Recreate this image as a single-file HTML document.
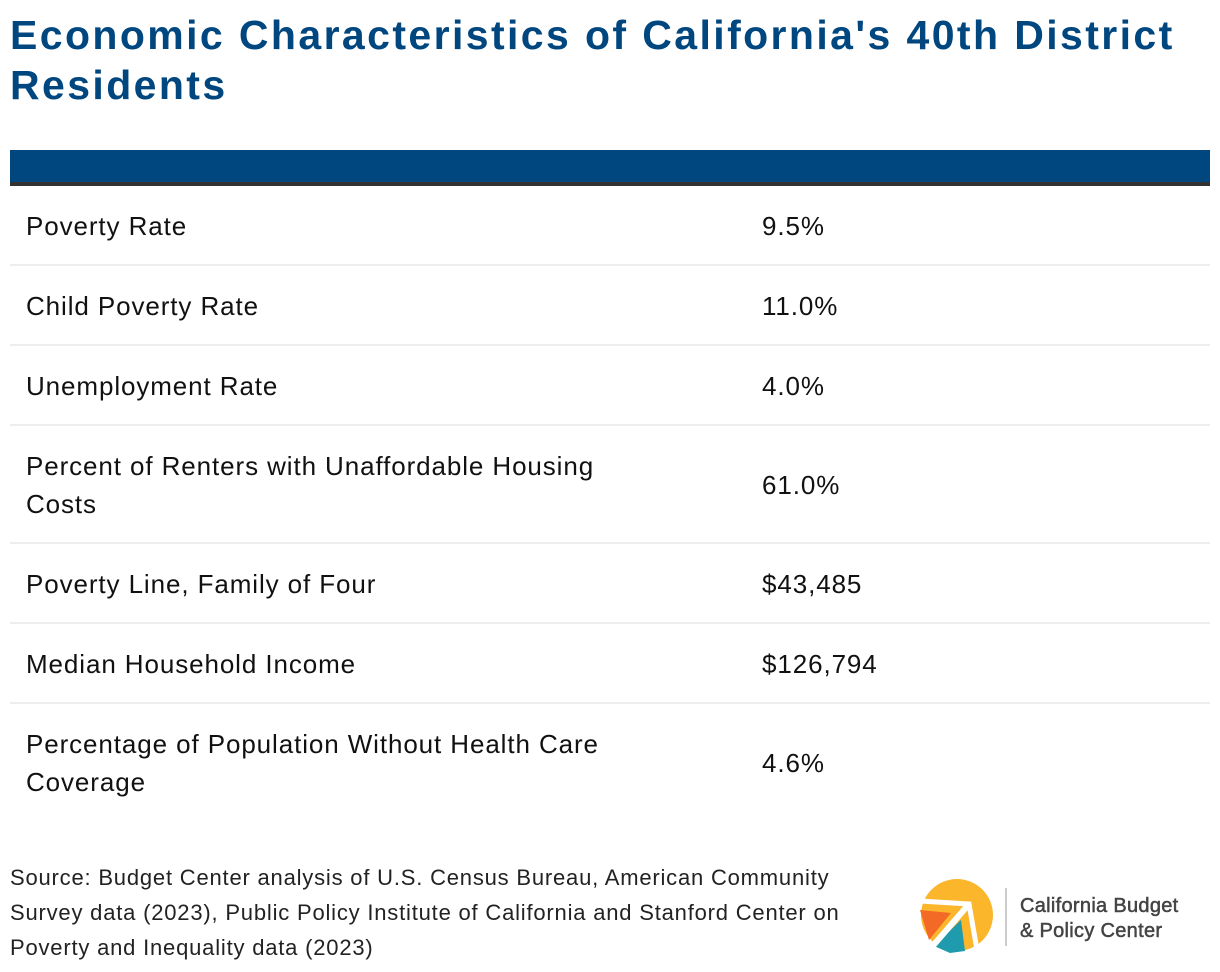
<!DOCTYPE html>
<html><head><meta charset="utf-8"><style>
body{margin:0;width:1220px;height:972px;background:#fff;font-family:"Liberation Sans",sans-serif;position:relative;overflow:hidden}
.t{position:absolute;left:10px;top:10px;width:1215px;font-weight:bold;font-size:41px;line-height:50px;color:#00467f;letter-spacing:2.4px}
.hdr{position:absolute;left:10px;top:150px;width:1200px;height:32px;background:#00467f;border-bottom:4px solid #333}
.row{position:absolute;left:10px;width:1200px;border-bottom:2px solid #eee;font-size:26px;color:#111;letter-spacing:0.9px}
.row .l{position:absolute;left:16px;width:620px;line-height:38px}
.row .v{position:absolute;left:752px;line-height:38px}
.src{position:absolute;left:10px;top:860px;width:870px;font-size:22px;line-height:35px;color:#222;letter-spacing:0.8px}
.logo{position:absolute;left:915px;top:878px}
</style></head><body>
<div class="t">Economic Characteristics of California's 40th District<br>Residents</div>
<div class="hdr"></div>
<div class="row" style="top:186px;height:78px"><div class="l" style="top:21px">Poverty Rate</div><div class="v" style="top:21px">9.5%</div></div>
<div class="row" style="top:266px;height:78px"><div class="l" style="top:21px">Child Poverty Rate</div><div class="v" style="top:21px">11.0%</div></div>
<div class="row" style="top:346px;height:78px"><div class="l" style="top:21px">Unemployment Rate</div><div class="v" style="top:21px">4.0%</div></div>
<div class="row" style="top:426px;height:116px"><div class="l" style="top:21px">Percent of Renters with Unaffordable Housing<br>Costs</div><div class="v" style="top:40px">61.0%</div></div>
<div class="row" style="top:544px;height:78px"><div class="l" style="top:21px">Poverty Line, Family of Four</div><div class="v" style="top:21px">$43,485</div></div>
<div class="row" style="top:624px;height:78px"><div class="l" style="top:21px">Median Household Income</div><div class="v" style="top:21px">$126,794</div></div>
<div class="row" style="top:704px;height:116px;border-bottom:none"><div class="l" style="top:21px">Percentage of Population Without Health Care<br>Coverage</div><div class="v" style="top:40px">4.6%</div></div>
<div class="src">Source: Budget Center analysis of U.S. Census Bureau, American Community<br>Survey data (2023), Public Policy Institute of California and Stanford Center on<br>Poverty and Inequality data (2023)</div>
<svg class="logo" width="300" height="90">
<circle cx="42" cy="37" r="36" fill="#fbb62c"/>
<polygon points="5,32 36,35 14,62" fill="#f26a26"/>
<polygon points="19,68 46,42 50,73 35,75" fill="#1f9bad"/>
<polyline points="5,23 54,26 62,72" fill="none" stroke="#fff" stroke-width="5"/>
<line x1="54" y1="26" x2="16" y2="70" stroke="#fff" stroke-width="6"/>
<line x1="91" y1="10" x2="91" y2="68" stroke="#bbb" stroke-width="1.5"/>
<text x="105" y="34" font-size="20" fill="#444" stroke="#444" stroke-width="0.5" letter-spacing="0.3" font-family="Liberation Sans,sans-serif">California Budget</text>
<text x="105" y="59" font-size="20" fill="#444" stroke="#444" stroke-width="0.5" letter-spacing="0.3" font-family="Liberation Sans,sans-serif">&amp; Policy Center</text>
</svg>
</body></html>
